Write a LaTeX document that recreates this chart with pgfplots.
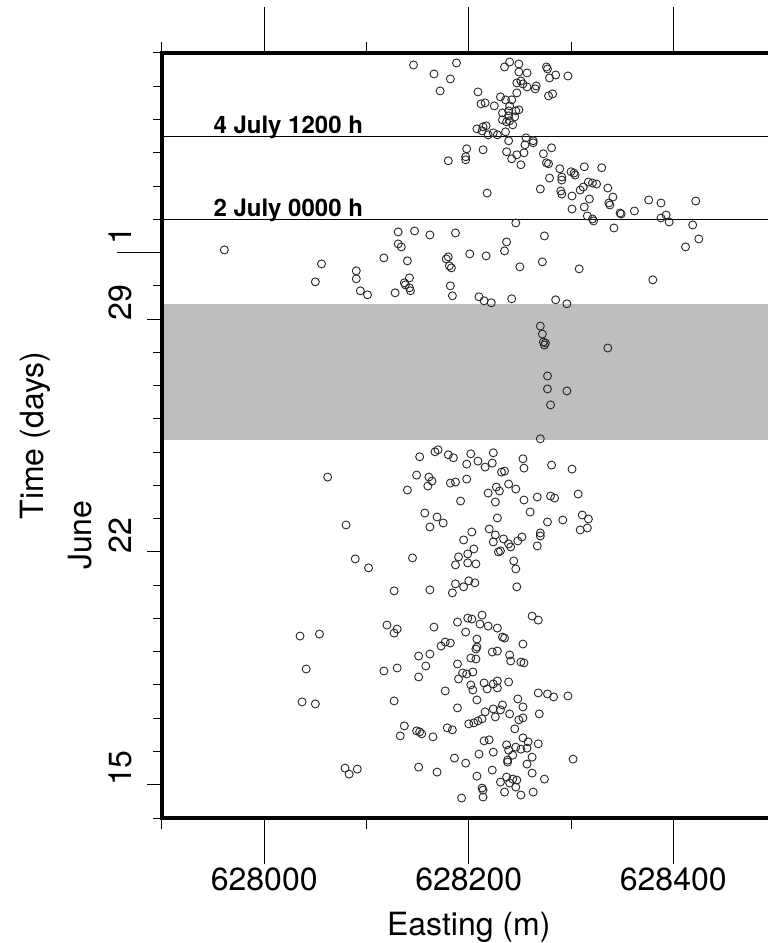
\documentclass[border=0pt]{standalone}
\usepackage{fontspec}
\setmainfont{TeX Gyre Heros}
\usepackage{pgfplots}
\usepackage{pgfplotstable}
\pgfplotsset{compat=1.18}

\definecolor{quietband}{RGB}{190,190,190}
\newcommand{\lab}{\fontsize{16}{19}\selectfont}
\newcommand{\tag}{\bfseries\fontsize{12}{14}\selectfont}

% Event locations: easting (m) and time (days since 0 June)
\pgfplotstableread{
e d
628146 36.64
628188 36.70
628166 36.37
628182 36.22
628172 35.86
628209 35.83
628212 35.47
628216 35.50
628225 35.41
628231 35.68
628236 35.59
628240 36.73
628235 36.58
628249 36.67
628249 36.43
628257 36.40
628276 36.58
628277 36.52
628279 36.25
628285 36.34
628297 36.31
628247 36.10
628251 36.16
628253 36.07
628257 35.98
628266 36.01
628265 35.92
628247 35.80
628278 35.71
628282 35.77
628242 35.59
628240 35.41
628233 35.20
628239 35.26
628246 35.26
628249 35.29
628245 35.08
628233 34.99
628237 34.93
628243 34.84
628240 34.96
628208 34.72
628214 34.78
628217 34.81
628213 34.66
628219 34.54
628224 34.60
628228 34.54
628236 34.63
628239 35.11
628239 34.36
628256 34.45
628263 34.36
628255 34.24
628263 34.30
628198 34.12
628214 34.09
628237 34.03
628247 33.94
628254 34.00
628242 33.82
628251 33.64
628197 33.88
628197 33.79
628180 33.76
628273 33.97
628281 34.15
628276 33.70
628278 33.67
628218 32.79
628270 32.91
628279 33.24
628289 33.52
628291 33.27
628291 33.18
628300 33.43
628303 33.39
628304 33.33
628313 33.58
628330 33.55
628290 32.85
628291 32.76
628301 32.70
628309 32.88
628312 32.97
628317 33.12
628321 33.09
628325 33.06
628318 32.61
628336 32.94
628341 32.67
628337 32.49
628338 32.43
628301 32.31
628313 32.37
628316 32.10
628321 32.01
628322 31.95
628348 32.19
628349 32.16
628362 32.25
628376 32.58
628388 32.49
628422 32.55
628393 32.13
628388 32.04
628396 31.92
628419 31.83
628425 31.41
628412 31.17
627961 31.08
628056 30.66
628050 30.12
628090 30.45
628090 30.21
628094 29.85
628101 29.73
628117 30.84
628131 31.62
628147 31.65
628162 31.53
628187 31.59
628131 31.26
628134 31.17
628140 30.75
628142 30.24
628137 30.09
628138 30.03
628142 29.94
628143 29.85
628128 29.79
628178 30.81
628180 30.87
628181 30.60
628183 30.54
628182 30.00
628184 29.70
628201 30.96
628217 30.90
628210 29.67
628215 29.55
628222 29.49
628242 29.61
628237 31.32
628235 31.05
628246 31.89
628250 30.57
628274 31.50
628272 30.72
628285 29.58
628296 29.46
628308 30.51
628342 31.74
628380 30.18
628270 28.79
628272 28.55
628273 28.31
628275 28.28
628274 28.22
628336 28.13
628277 27.29
628277 26.90
628296 26.84
628280 26.42
628270 25.40
628062 24.25
628080 22.81
628089 21.79
628102 21.52
628127 20.83
628145 21.82
628140 23.86
628149 24.31
628152 24.86
628167 25.01
628170 25.07
628180 24.92
628185 24.83
628161 24.25
628164 24.13
628160 23.98
628182 24.07
628187 24.10
628198 24.19
628198 24.64
628202 24.95
628209 24.73
628216 24.55
628223 24.67
628224 24.98
628232 24.40
628235 24.43
628239 24.04
628246 23.89
628253 24.80
628254 24.52
628281 24.61
628301 24.49
628192 23.53
628219 23.77
628227 23.95
628230 23.83
628226 23.50
628254 23.56
628267 23.65
628280 23.68
628284 23.62
628307 23.74
628260 23.20
628157 23.17
628169 23.05
628175 22.87
628162 22.75
628228 23.02
628277 22.90
628292 22.96
628311 23.11
628317 22.99
628309 22.66
628316 22.72
628203 22.60
628195 22.36
628220 22.69
628226 22.51
628224 22.30
628234 22.39
628239 22.24
628241 22.15
628248 22.33
628252 22.45
628229 22.00
628231 22.03
628270 22.57
628270 22.48
628267 22.18
628205 22.09
628199 21.94
628190 21.85
628187 21.61
628199 21.67
628207 21.64
628244 21.73
628246 21.49
628187 21.04
628195 20.95
628200 21.13
628206 21.07
628184 20.77
628162 20.86
628247 20.95
628120 19.80
628127 19.56
628130 19.68
628166 19.74
628189 19.89
628197 19.59
628199 20.01
628203 19.98
628213 20.10
628211 19.83
628219 19.77
628228 19.71
628262 20.07
628268 19.95
628035 19.47
628054 19.53
628041 18.48
628037 17.49
628050 17.43
628079 15.50
628083 15.32
628091 15.47
628117 18.42
628130 18.51
628127 17.52
628137 16.77
628133 16.47
628149 16.62
628152 16.59
628154 16.53
628165 16.44
628151 15.53
628169 15.38
628151 18.87
628162 18.93
628158 18.57
628151 18.24
628177 17.82
628173 19.17
628177 19.29
628182 19.26
628233 19.44
628235 19.41
628253 19.23
628208 19.38
628208 19.14
628207 19.08
628223 18.99
628228 19.02
628240 18.90
628241 18.72
628251 18.69
628254 18.66
628202 18.81
628207 18.78
628189 18.63
628194 18.36
628198 18.33
628204 18.39
628190 18.18
628202 18.00
628204 17.85
628215 18.06
628218 17.88
628224 18.03
628228 18.12
628228 17.91
628239 18.09
628208 17.55
628189 17.31
628179 16.71
628184 16.65
628200 16.83
628205 16.86
628209 16.92
628213 16.98
628216 17.19
628224 17.28
628231 17.25
628233 17.40
628226 17.04
628240 17.13
628248 17.58
628253 17.34
628249 16.95
628253 17.01
628245 16.68
628268 17.76
628277 17.73
628283 17.64
628297 17.67
628269 17.13
628215 16.32
628220 16.35
628237 16.20
628246 16.13
628251 16.07
628257 16.10
628253 16.41
628258 16.29
628268 16.23
628239 16.04
628243 15.89
628224 15.98
628210 15.92
628186 15.80
628197 15.65
628238 15.74
628238 15.68
628262 15.83
628257 15.62
628223 15.44
628208 15.26
628262 15.35
628274 15.17
628302 15.77
628231 15.08
628237 15.23
628240 15.05
628247 15.14
628243 15.17
628235 14.78
628246 14.93
628213 14.90
628214 14.84
628214 14.63
628193 14.60
628251 14.69
628263 14.78
}\events

\begin{document}
\begin{tikzpicture}
\begin{axis}[
  name=ax,
  scale only axis,
  width=306.75pt, height=382.5pt,
  xmin=627900, xmax=628500,
  ymin=14, ymax=37,
  clip=false,
  axis on top,
  axis line style={line width=2pt},
  tick align=outside,
  scaled x ticks=false,
  xtick={628000,628200,628400},
  minor xtick={627900,628100,628300,628500},
  xticklabels={},
  ytick=\empty,
  major tick length=23pt,
  minor tick length=5.5pt,
  tick style={line width=0.5pt, black},
]
% quiet interval
\addplot[fill=quietband, draw=none]
  coordinates {(627900,25.37) (628500,25.37) (628500,29.45) (627900,29.45)};
% reference times
\addplot[black, line width=0.5pt] coordinates {(627900,34.5) (628500,34.5)};
\addplot[black, line width=0.5pt] coordinates {(627900,32) (628500,32)};
% events
\addplot[only marks, mark=o, mark size=2pt,
  mark options={line width=0.45pt, draw=black!85}]
  table[x=e, y=d] {\events};

% day ticks on the time axis
\pgfplotsinvokeforeach{14,...,37}{
  \draw[line width=0.5pt] (axis cs:627900,#1) -- ++(-4.5pt,0pt);
}
\pgfplotsinvokeforeach{15,22,29}{
  \draw[line width=0.5pt] (axis cs:627900,#1) -- ++(-7.5pt,0pt);
}
\draw[line width=0.5pt] (axis cs:627900,31) -- ++(-22.5pt,0pt);

% day labels, centred on each day
\pgfplotsinvokeforeach{15,22,29}{
  \node[rotate=90, anchor=base, font=\lab, inner sep=0pt]
    at ([xshift=-15pt]axis cs:627900,#1.5) {#1};
}
\node[rotate=90, anchor=base, font=\lab, inner sep=0pt]
  at ([xshift=-15pt]axis cs:627900,31.5) {1};
\node[rotate=90, anchor=base, font=\lab, inner sep=0pt]
  at ([xshift=-35pt]axis cs:627900,22.5) {June};
\node[rotate=90, anchor=base, font=\lab, inner sep=0pt]
  at ([xshift=-59pt]axis cs:627900,25.5) {Time (days)};

% easting labels
\pgfplotsinvokeforeach{628000,628200,628400}{
  \node[anchor=base, font=\lab, inner sep=0pt]
    at ([yshift=-36pt]axis cs:#1,14) {#1};
}
\node[anchor=base, font=\lab, inner sep=0pt]
  at ([yshift=-58.5pt]axis cs:628200,14) {Easting (m)};

% reference time tags
\node[anchor=base west, font=\tag, inner sep=0pt]
  at ([yshift=1.5pt]axis cs:627950,34.5) {4 July 1200 h};
\node[anchor=base west, font=\tag, inner sep=0pt]
  at ([yshift=1.5pt]axis cs:627950,32) {2 July 0000 h};
\end{axis}
\pgfresetboundingbox
\path[use as bounding box]
  ([xshift=-81pt,yshift=-62.5pt]ax.south west)
  rectangle ([xshift=302.5pt,yshift=26.5pt]ax.north west);
\end{tikzpicture}
\end{document}
